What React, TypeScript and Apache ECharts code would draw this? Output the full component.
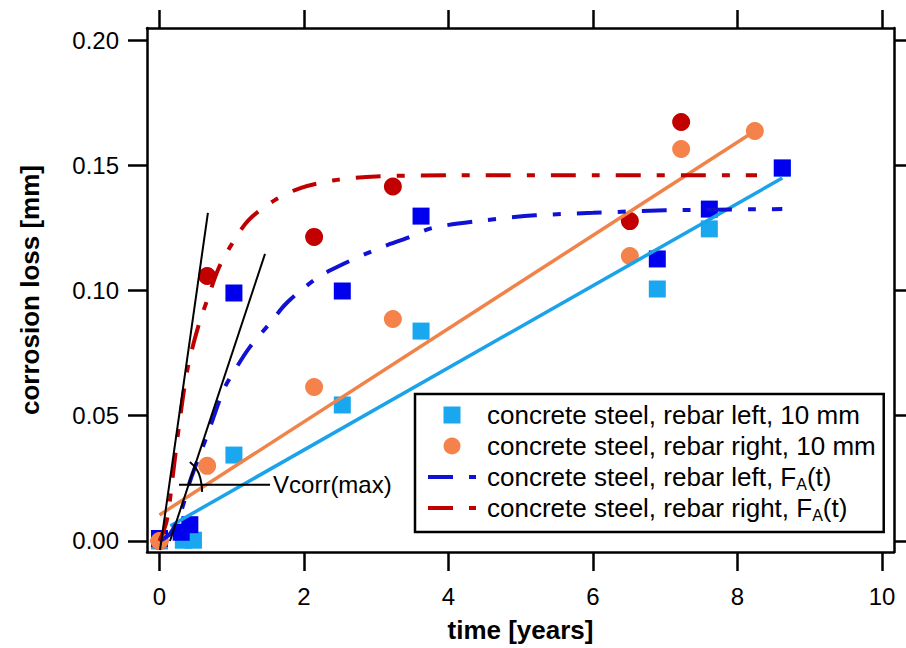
import React, { useEffect, useRef } from "react";
import * as echarts from "echarts";

const FONT = "Liberation Sans, Arial, sans-serif";

// axis ticks
const xTicks = [0, 2, 4, 6, 8, 10];
const yTicks = [0, 0.05, 0.1, 0.15, 0.2];

// measured points
const lightBlueX = [0, 0.33, 0.47, 1.03, 2.53, 3.62, 6.89, 7.61, 8.62];
const lightBlueY = [0, 0.0003, 0.0003, 0.0343, 0.0543, 0.0838, 0.1006, 0.1246, 0.1489];
const darkBlueX = [0, 0.3, 0.42, 1.03, 2.53, 3.62, 6.89, 7.61, 8.62];
const darkBlueY = [0.001, 0.0035, 0.0065, 0.099, 0.0998, 0.1297, 0.1126, 0.1325, 0.1489];
const orangeX = [0, 0.66, 2.14, 3.23, 6.51, 7.22, 8.24];
const orangeY = [0, 0.03, 0.0615, 0.0886, 0.1138, 0.1565, 0.1637];
const darkRedX = [0, 0.66, 2.14, 3.23, 6.51, 7.22];
const darkRedY = [0, 0.1058, 0.1214, 0.1415, 0.1277, 0.1673];

// linear fits
const lightFitX = [0.15, 8.62];
const lightFitY = [0.006, 0.1449];
const orangeFitX = [0.0, 8.24];
const orangeFitY = [0.0104, 0.1637];

// F_A(t) curves
const blueCurveX = [0, 0.15, 0.3, 0.43, 0.67, 0.89, 1.07, 1.25, 1.53, 1.76, 2.18, 2.5, 3.05, 3.43, 3.78, 4.5, 5.2, 6.0, 7.0, 8.62];
const blueCurveY = [0, 0.003, 0.012, 0.0245, 0.043, 0.0605, 0.0695, 0.0774, 0.087, 0.095, 0.105, 0.11, 0.117, 0.121, 0.125, 0.128, 0.13, 0.131, 0.132, 0.1325];
const redCurveX = [0, 0.1, 0.18, 0.27, 0.39, 0.54, 0.67, 0.82, 0.99, 1.23, 1.59, 1.96, 2.42, 3.0, 4.0, 6.0, 8.27];
const redCurveY = [0, 0.008, 0.025, 0.046, 0.069, 0.086, 0.097, 0.109, 0.118, 0.128, 0.136, 0.141, 0.144, 0.1455, 0.146, 0.146, 0.146];

// Vcorr(max) tangent construction
const tangent1X = [0.007, 0.67];
const tangent1Y = [-0.0036, 0.131];
const tangent2X = [0.145, 1.46];
const tangent2Y = [0.0, 0.1146];
const arcX = [0.42, 0.52, 0.57, 0.59];
const arcY = [0.0315, 0.0283, 0.0244, 0.0196];
const pointerX = [0.27, 1.53];
const pointerY = [0.0224, 0.0224];

const NAME_LB = "concrete steel, rebar left, 10 mm";
const NAME_OR = "concrete steel, rebar right, 10 mm";
const NAME_BC = "concrete steel, rebar left, F_A(t)";
const NAME_RC = "concrete steel, rebar right, F_A(t)";

const zip = (xs: number[], ys: number[]) => xs.map((x, i) => [x, ys[i]]);

const DASHDOT = [25, 16, 8, 16];

export default function App() {
  const ref = useRef<HTMLDivElement>(null);
  useEffect(() => {
    if (!ref.current) return;
    const chart = echarts.init(ref.current, undefined, { renderer: "svg" });
    const axisCommon = {
      type: "value" as const,
      splitLine: { show: false },
      axisLine: { show: true, onZero: false, lineStyle: { color: "#000", width: 2.5 } },
    };
    const lineSeries = (name: string, xs: number[], ys: number[], color: string, width: number, extra: any = {}) => ({
      type: "line",
      name,
      data: zip(xs, ys),
      symbol: "none",
      showSymbol: false,
      silent: true,
      lineStyle: { color, width, ...(extra.lineStyle || {}) },
      itemStyle: { color, opacity: 0 },
      ...Object.fromEntries(Object.entries(extra).filter(([k]) => k !== "lineStyle")),
    });
    const scatter = (name: string, xs: number[], ys: number[], color: string, symbol: string, size: number) => ({
      type: "scatter",
      name,
      data: zip(xs, ys),
      symbol,
      symbolSize: size,
      itemStyle: { color, opacity: 1 },
      silent: true,
    });
    chart.setOption({
      animation: false,
      backgroundColor: "#fff",
      textStyle: { fontFamily: FONT },
      grid: { left: 147, right: 12, top: 28, bottom: 96, containLabel: false },
      xAxis: [
        {
          ...axisCommon,
          position: "bottom",
          min: -0.173,
          max: 10.166,
          axisTick: { show: true, inside: false, length: 19, customValues: xTicks, lineStyle: { color: "#000", width: 2.5 } },
          axisLabel: { show: true, customValues: xTicks, fontSize: 24, margin: 32, color: "#000", fontFamily: FONT },
          name: "time [years]",
          nameLocation: "middle",
          nameGap: 65,
          nameTextStyle: { fontSize: 26, fontWeight: "bold", color: "#000", fontFamily: FONT },
        },
        {
          ...axisCommon,
          position: "top",
          min: -0.173,
          max: 10.166,
          axisTick: { show: true, inside: false, length: 18, customValues: xTicks, lineStyle: { color: "#000", width: 2.5 } },
          axisLabel: { show: false },
        },
      ],
      yAxis: [
        {
          ...axisCommon,
          position: "left",
          min: -0.0044,
          max: 0.2048,
          axisTick: { show: true, inside: false, length: 19, customValues: yTicks, lineStyle: { color: "#000", width: 2.5 } },
          axisLabel: {
            show: true,
            customValues: yTicks,
            fontSize: 24,
            margin: 28,
            color: "#000",
            fontFamily: FONT,
            formatter: (v: number) => v.toFixed(2),
          },
          name: "corrosion loss [mm]",
          nameLocation: "middle",
          nameGap: 104,
          nameRotate: 90,
          nameTextStyle: { fontSize: 26, fontWeight: "bold", color: "#000", fontFamily: FONT },
        },
        {
          ...axisCommon,
          position: "right",
          min: -0.0044,
          max: 0.2048,
          axisTick: { show: true, inside: false, length: 14, customValues: yTicks, lineStyle: { color: "#000", width: 2.5 } },
          axisLabel: { show: false },
        },
      ],
      legend: {
        data: [
          { name: NAME_LB, icon: "path://M0,0h10v10h-10z" },
          { name: NAME_OR, icon: "circle" },
          { name: NAME_BC },
          { name: NAME_RC },
        ],
        orient: "vertical",
        left: 415,
        top: 394,
        itemWidth: 48,
        itemHeight: 17,
        itemGap: 1,
        padding: [6, 8, 9, 11],
        borderColor: "#000",
        borderWidth: 2.5,
        backgroundColor: "#fff",
        selectedMode: false,
        symbolKeepAspect: true,
        lineStyle: { width: 4 },
        formatter: (n: string) => n.replace("F_A(t)", "F{sub|A}(t)"),
        textStyle: {
          fontSize: 26,
          lineHeight: 30,
          color: "#000",
          fontFamily: FONT,
          padding: [0, 0, 0, 6],
          rich: { sub: { fontSize: 16, verticalAlign: "bottom", color: "#000", fontFamily: FONT } },
        },
      },
      series: [
        lineSeries("lightFit", lightFitX, lightFitY, "#1aa3ea", 3.5),
        lineSeries("orangeFit", orangeFitX, orangeFitY, "#f0834a", 3.5),
        lineSeries(NAME_BC, blueCurveX, blueCurveY, "#1111d4", 4, { smooth: 0.3, lineStyle: { type: DASHDOT } }),
        lineSeries(NAME_RC, redCurveX, redCurveY, "#c00000", 4, { smooth: 0.3, lineStyle: { type: DASHDOT } }),
        scatter(NAME_LB, lightBlueX, lightBlueY, "#19a8ef", "rect", 17),
        scatter("darkBlue", darkBlueX, darkBlueY, "#0000ee", "rect", 17),
        scatter("darkRed", darkRedX, darkRedY, "#c20000", "circle", 18),
        scatter(NAME_OR, orangeX, orangeY, "#f5824a", "circle", 18),
        lineSeries("tangent1", tangent1X, tangent1Y, "#000", 2),
        lineSeries("tangent2", tangent2X, tangent2Y, "#000", 2),
        lineSeries("arc", arcX, arcY, "#000", 2, { smooth: true }),
        lineSeries("pointer", pointerX, pointerY, "#000", 2, {
          endLabel: { show: true, formatter: "Vcorr(max)", distance: 3, fontSize: 24, color: "#000", fontFamily: FONT },
        }),
      ],
    });
    return () => chart.dispose();
  }, []);
  return <div ref={ref} style={{ position: "absolute", left: 0, top: 0, width: 906, height: 648 }} />;
}
